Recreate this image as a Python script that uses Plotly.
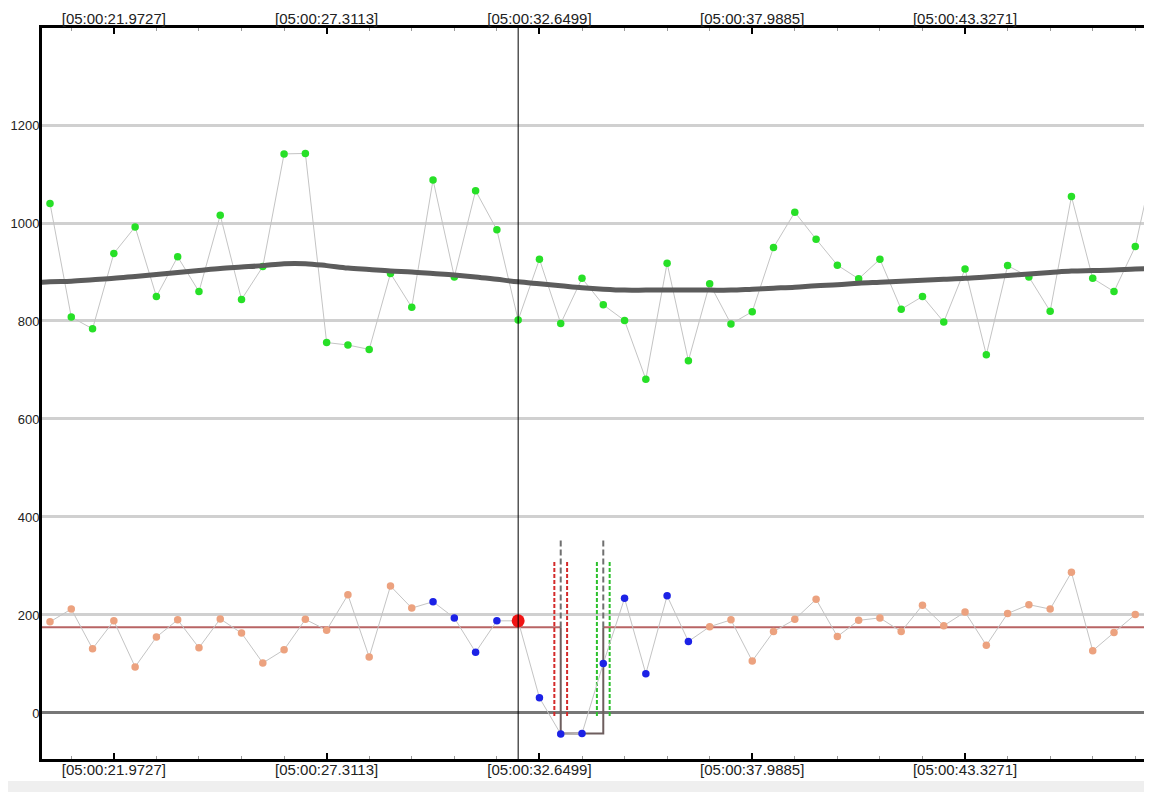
import plotly.graph_objects as go

# ---------------- data ----------------
upper = [1040, 808, 784, 938, 992, 850, 931, 860, 1016, 844, 911, 1141, 1142, 756, 751,
         742, 897, 828, 1088, 890, 1066, 986, 802, 926, 795, 887, 833, 801, 681, 918,
         719, 876, 794, 819, 950, 1022, 967, 914, 886, 926, 824, 850, 798, 906, 731,
         913, 890, 820, 1054, 887, 860, 952, 1150]

trend_start = -1
trend = [877, 880, 881, 884, 887, 891, 895, 899, 903, 907, 910, 913, 917, 917, 913, 908,
         905, 902, 900, 897, 894, 890, 885, 880, 876, 872, 868, 865, 863, 863, 863, 863,
         863, 863, 865, 867, 869, 872, 874, 877, 879, 881, 883, 885, 887, 890, 893, 896,
         899, 902, 903, 904, 906, 907]

lower = [186, 212, 131, 188, 94, 155, 190, 133, 192, 163, 102, 129, 191, 169, 241,
         114, 259, 214, 227, 194, 124, 188, 188, 31, -43, -42, 101, 234, 80, 239,
         146, 176, 190, 106, 166, 191, 232, 156, 189, 194, 166, 220, 178, 206, 138,
         203, 221, 212, 287, 127, 164, 201, 200]

blue_idx = [18, 19, 20, 21, 23, 24, 25, 26, 27, 28, 29, 30]
red_idx = 22
mean_level = 175
gap_start, gap_end = 24, 26
gap_low = -42
marker_top = 352
band_top = 312
band_bottom = -6
band_offset = 0.3

tick_idx = [3, 13, 23, 33, 43]
tick_text = ["[05:00:21.9727]", "[05:00:27.3113]", "[05:00:32.6499]",
             "[05:00:37.9885]", "[05:00:43.3271]"]
y_ticks = [0, 200, 400, 600, 800, 1000, 1200]

# ---------------- figure ----------------
n = len(upper)
xs = list(range(n))
GREEN = "#27e027"
SALMON = "#eca27f"
BLUE = "#1c22e6"
THIN = "#c4c4c4"
MEAN = "#b86464"

fig = go.Figure()

# upper series
fig.add_trace(go.Scatter(x=xs, y=upper, mode="lines+markers",
                         line=dict(color=THIN, width=1),
                         marker=dict(color=GREEN, size=7.5),
                         hoverinfo="skip", showlegend=False))
fig.add_trace(go.Scatter(x=list(range(trend_start, trend_start + len(trend))), y=trend,
                         mode="lines", line=dict(color="#5c5c5c", width=5, shape="spline"),
                         hoverinfo="skip", showlegend=False))

# mean line with gap bracket
fig.add_trace(go.Scatter(x=[-1, gap_start], y=[mean_level, mean_level], mode="lines",
                         line=dict(color=MEAN, width=2), hoverinfo="skip", showlegend=False))
fig.add_trace(go.Scatter(x=[gap_end, n], y=[mean_level, mean_level], mode="lines",
                         line=dict(color=MEAN, width=2), hoverinfo="skip", showlegend=False))
fig.add_trace(go.Scatter(x=[gap_start, gap_start, gap_end, gap_end],
                         y=[mean_level, gap_low, gap_low, mean_level], mode="lines",
                         line=dict(color="#6e5e5e", width=2), hoverinfo="skip", showlegend=False))

# dashed / dotted markers
for gx in (gap_start, gap_end):
    fig.add_trace(go.Scatter(x=[gx, gx], y=[marker_top, mean_level], mode="lines",
                             line=dict(color="#707070", width=2, dash="6px,3px"),
                             hoverinfo="skip", showlegend=False))
for gx, col in ((gap_start, "#d42a2a"), (gap_end, "#2cc02c")):
    for off in (-band_offset, band_offset):
        fig.add_trace(go.Scatter(x=[gx + off, gx + off], y=[band_bottom, band_top], mode="lines",
                                 line=dict(color=col, width=2, dash="4px,2px"),
                                 hoverinfo="skip", showlegend=False))

# lower series
colors = []
for i in range(n):
    colors.append(BLUE if i in blue_idx else SALMON)
fig.add_trace(go.Scatter(x=xs, y=lower, mode="lines+markers",
                         line=dict(color=THIN, width=1),
                         marker=dict(color=colors, size=7.5),
                         hoverinfo="skip", showlegend=False))
fig.add_trace(go.Scatter(x=[red_idx], y=[lower[red_idx]], mode="markers",
                         marker=dict(color="#f01414", size=13),
                         hoverinfo="skip", showlegend=False))

# dummy trace for top axis
fig.add_trace(go.Scatter(x=[None], y=[None], xaxis="x2", mode="markers",
                         hoverinfo="skip", showlegend=False))

# cursor line
fig.add_vline(x=red_idx, line=dict(color="black", width=1))

# page offset (browser body margin) compensation
OFF = 8
W, H = 1152 - OFF, 792 - OFF
L, R, T, B = 42 - OFF, 1149 - OFF, 28 - OFF, 759 - OFF
pw, ph = R - L, B - T
fig.add_shape(type="rect", xref="paper", yref="paper", layer="below",
              x0=(-20 - L) / pw, x1=(1150 - OFF - L) / pw,
              y0=(B - (781 - OFF)) / ph, y1=(B + 20) / ph,
              fillcolor="white", line=dict(width=0))

xrange = [(42 - 50) / 21.28, (1149 - 50) / 21.28]
xfont = dict(family="Liberation Sans, Arial, sans-serif", size=15, color="#222")

common_x = dict(tickmode="array", tickvals=tick_idx, ticktext=tick_text,
                showgrid=False, zeroline=False, showline=True, linecolor="black", linewidth=3,
                ticks="inside", ticklen=6, tickwidth=2, tickcolor="black",
                minor=dict(tickmode="linear", tick0=1, dtick=2, ticks="inside",
                           ticklen=3, tickwidth=1, tickcolor="#9a9a9a", showgrid=False),
                tickfont=xfont, automargin=False)

fig.update_layout(
    width=W, height=H,
    margin=dict(l=L, r=W - R, t=T, b=H - B, pad=0, autoexpand=False),
    paper_bgcolor="#efefef", plot_bgcolor="white",
    font=xfont,
    xaxis=dict(range=xrange, ticklabelstandoff=-5, **common_x),
    xaxis2=dict(overlaying="x", side="top", matches="x", range=xrange,
                ticklabelstandoff=-5, **common_x),
    yaxis=dict(range=[-94, 1398], tickmode="array", tickvals=y_ticks,
               showgrid=True, gridcolor="#d0d0d0", gridwidth=3,
               zeroline=True, zerolinecolor="#777777", zerolinewidth=3,
               showline=True, linecolor="black", linewidth=3, ticks="", automargin=False,
               ticklabelstandoff=-3,
               tickfont=dict(family="Liberation Sans, Arial, sans-serif", size=13, color="#222")),
)

fig.write_html("out.html")
